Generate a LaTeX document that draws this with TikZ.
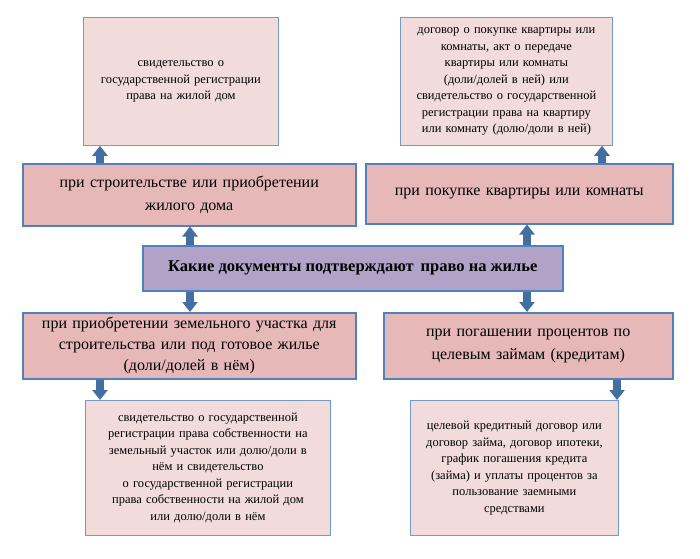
\documentclass[tikz,border=0pt]{standalone}
\usepackage{fontspec}
\setmainfont{Liberation Serif}
\usetikzlibrary{arrows.meta,positioning}
\definecolor{boxline}{HTML}{4F81BD}
\definecolor{lightpink}{HTML}{F2DCDB}
\definecolor{midpink}{HTML}{E6B9B8}
\definecolor{lavender}{HTML}{B3A2C7}
\definecolor{arrowblue}{HTML}{4F81BD}
\tikzset{
  doc/.style ={draw=boxline!80, line width=0.8pt, fill=lightpink, align=center, font=\fontsize{12.5}{16.5}\selectfont, inner sep=2pt},
  case/.style={draw=boxline, line width=1.5pt, fill=midpink, align=center, font=\fontsize{16}{23}\selectfont, inner sep=2pt},
  main/.style={draw=boxline, line width=1.5pt, fill=lavender, align=center, font=\bfseries\fontsize{16.5}{18}\selectfont},
  blk/.style ={-{Triangle[width=15pt,length=10pt]}, line width=7.5pt, draw=arrowblue!85!black}
}
\begin{document}
\begin{tikzpicture}[x=1pt,y=-1pt]
\useasboundingbox (0,0) rectangle (700,558);
% documents on top
\node[doc, minimum width=195pt, minimum height=128pt, text width=191pt, anchor=north west] (dhouse) at (83,17)
  {свидетельство о\\государственной регистрации\\права на жилой дом\\[20pt]};
\node[doc, minimum width=212pt, minimum height=128pt, text width=208pt, anchor=north west] (dflat) at (400,17)
  {договор о покупке квартиры или\\комнаты, акт о передаче\\квартиры или комнаты\\(доли/долей в ней) или\\свидетельство о государственной\\регистрации права на квартиру\\или комнату (долю/доли в ней)};
% cases
\node[case, minimum width=333pt, minimum height=62pt, text width=329pt, anchor=north west] (house) at (22,163)
  {при строительстве или приобретении\\жилого дома};
\node[case, minimum width=307pt, minimum height=60pt, text width=303pt, anchor=north west] (flat) at (365,163)
  {при покупке квартиры или комнаты};
\node[main, minimum width=420pt, minimum height=45pt, anchor=north west] (c) at (142,245)
  {Какие документы подтверждают\, право на жилье};
\node[case, minimum width=333pt, minimum height=66pt, text width=329pt, anchor=north west, font=\fontsize{16}{21}\selectfont] (land) at (22,312)
  {при приобретении земельного участка для\\строительства или под готовое жилье\\(доли/долей в нём)};
\node[case, minimum width=289pt, minimum height=66pt, text width=285pt, anchor=north west] (loan) at (383,312)
  {при погашении процентов по\\целевым займам (кредитам)};
% documents below
\node[doc, minimum width=245pt, minimum height=135pt, text width=241pt, anchor=north west] (dland) at (85,400)
  {свидетельство о государственной\\регистрации права собственности на\\земельный участок или долю/доли в\\нём и свидетельство\\о государственной регистрации\\права собственности на жилой дом\\или долю/доли в нём};
\node[doc, minimum width=208pt, minimum height=135pt, text width=204pt, anchor=north west] (dloan) at (410,400)
  {целевой кредитный договор или\\договор займа, договор ипотеки,\\график погашения кредита\\(займа) и уплаты процентов за\\пользование заемными\\средствами};
% arrows
\draw[blk] (house.north -| 100,0) -- (dhouse.south -| 100,0);
\draw[blk] (flat.north -| 602,0) -- (dflat.south -| 602,0);
\draw[blk] (c.north -| 190,0) -- (house.south -| 190,0);
\draw[blk] (c.north -| 527,0) -- (flat.south -| 527,0);
\draw[blk] (c.south -| 190,0) -- (land.north -| 190,0);
\draw[blk] (c.south -| 527,0) -- (loan.north -| 527,0);
\draw[blk] (land.south -| 100,0) -- (dland.north -| 100,0);
\draw[blk] (loan.south -| 617,0) -- (dloan.north -| 617,0);
\end{tikzpicture}
\end{document}
